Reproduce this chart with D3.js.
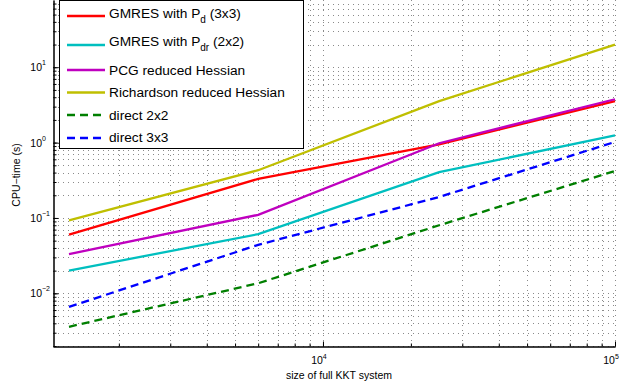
<!DOCTYPE html>
<html>
<head>
<meta charset="utf-8">
<script src="https://cdn.jsdelivr.net/npm/d3@7"></script>
<style>
  body { margin: 0; background: #fff; }
  svg { font-family: "Liberation Sans", Arial, Helvetica, sans-serif; }
</style>
</head>
<body>
<svg id="chart" width="620" height="390"></svg>
<script>
// problem sizes (x) and CPU times (y)
let sizes = [1350, 6000, 25000, 100000];
let gmresPd = [0.060, 0.33, 0.95, 3.55];
let gmresPdr = [0.020, 0.061, 0.405, 1.25];
let pcgHess = [0.033, 0.11, 0.98, 3.76];
let richHess = [0.093, 0.43, 3.55, 19.9];
let direct2 = [0.0036, 0.0136, 0.080, 0.42];
let direct3 = [0.0066, 0.044, 0.19, 1.02];

let xMajor = [1e4, 1e5];
let yMajor = [1e-2, 1e-1, 1e0, 1e1];

let series = [
  {name: 'GMRES with P', sub: 'd', tail: ' (3x3)', values: gmresPd, color: '#ff0000', dash: null},
  {name: 'GMRES with P', sub: 'dr', tail: ' (2x2)', values: gmresPdr, color: '#00bfbf', dash: null},
  {name: 'PCG reduced Hessian', values: pcgHess, color: '#bf00bf', dash: null},
  {name: 'Richardson reduced Hessian', values: richHess, color: '#bfbf00', dash: null},
  {name: 'direct 2x2', values: direct2, color: '#007f00', dash: '8,5'},
  {name: 'direct 3x3', values: direct3, color: '#0000ff', dash: '8,5'}
];

let svg = d3.select('#chart');
let pLeft = 53, pRight = 615, pTop = 0, pBottom = 346;

let x = d3.scaleLog().domain([1190, 1e5]).range([pLeft, pRight]);
let y = d3.scaleLog().domain([0.002, 78]).range([pBottom, pTop]);

function minors(scale) {
  let d = scale.domain(), out = [];
  for (let e = Math.floor(Math.log10(d[0])); e <= Math.ceil(Math.log10(d[1])); e++) {
    for (let m = 1; m < 10; m++) {
      let v = m * Math.pow(10, e);
      if (v >= d[0] && v <= d[1]) out.push(v);
    }
  }
  return out;
}
let xAll = minors(x), yAll = minors(y);

// dotted grid
let grid = svg.append('g').attr('stroke', '#8a8a8a').attr('stroke-width', 1).attr('stroke-dasharray', '1,4');
grid.selectAll('.gx').data(xAll).enter().append('line')
  .attr('x1', d => Math.round(x(d)) + 0.5).attr('x2', d => Math.round(x(d)) + 0.5)
  .attr('y1', pTop).attr('y2', pBottom);
grid.selectAll('.gy').data(yAll).enter().append('line')
  .attr('y1', d => Math.round(y(d)) + 0.5).attr('y2', d => Math.round(y(d)) + 0.5)
  .attr('x1', pLeft).attr('x2', pRight);

// axes with inward ticks
svg.append('g').attr('transform', 'translate(0,' + (pBottom + 0.5) + ')')
  .call(d3.axisBottom(x).tickValues(xAll).tickSize(-3).tickSizeOuter(0).tickFormat(''));
svg.append('g').attr('transform', 'translate(0,' + (pBottom + 0.5) + ')')
  .call(d3.axisBottom(x).tickValues(xMajor).tickSize(-5).tickSizeOuter(0).tickFormat(''));
svg.append('g').attr('transform', 'translate(' + (pLeft + 0.5) + ',0)')
  .call(d3.axisLeft(y).tickValues(yAll).tickSize(-3).tickSizeOuter(0).tickFormat(''));
svg.append('g').attr('transform', 'translate(' + (pLeft + 0.5) + ',0)')
  .call(d3.axisLeft(y).tickValues(yMajor).tickSize(-5).tickSizeOuter(0).tickFormat(''));
svg.selectAll('.domain').attr('stroke', '#000');
svg.selectAll('.tick line').attr('stroke', '#000');

// tick labels as 10^k
xMajor.forEach(function(v) {
  let t = svg.append('text').attr('x', x(v) - 4).attr('y', 364)
    .attr('text-anchor', 'middle').attr('font-size', 10.5);
  t.append('tspan').text('10');
  t.append('tspan').attr('dy', -5).attr('font-size', 7).text(Math.round(Math.log10(v)));
});
yMajor.forEach(function(v) {
  svg.append('text').attr('x', 42).attr('y', y(v) + 4)
    .attr('text-anchor', 'end').attr('font-size', 10.5).text('10');
  let e = Math.round(Math.log10(v));
  svg.append('text').attr('x', 42).attr('y', y(v) - 2)
    .attr('font-size', 7).text(e < 0 ? '\u2212' + (-e) : e);
});

// series
let line = d3.line().x((d, i) => x(sizes[i])).y(d => y(d));
svg.selectAll('.series').data(series).enter().append('path')
  .attr('d', d => line(d.values))
  .attr('fill', 'none')
  .attr('stroke', d => d.color)
  .attr('stroke-width', 2.3)
  .attr('stroke-dasharray', d => d.dash);

// axis titles
svg.append('text').attr('x', 339).attr('y', 379)
  .attr('text-anchor', 'middle').attr('font-size', 10.5).text('size of full KKT system');
svg.append('text').attr('transform', 'translate(20,175) rotate(-90)')
  .attr('text-anchor', 'middle').attr('font-size', 10.5).text('CPU\u2212time (s)');

// legend
let lg = svg.append('g');
lg.append('rect').attr('x', 59.5).attr('y', 0.5).attr('width', 244).attr('height', 148)
  .attr('fill', '#fff').attr('stroke', '#000').attr('stroke-width', 1);
let lineY = [16, 45, 70, 92.5, 115, 138];
let textY = [17.5, 46, 75, 96.5, 119.5, 142];
series.forEach(function(s, i) {
  lg.append('line').attr('x1', 67).attr('x2', 105).attr('y1', lineY[i]).attr('y2', lineY[i])
    .attr('stroke', s.color).attr('stroke-width', 2.3).attr('stroke-dasharray', s.dash);
  let t = lg.append('text').attr('x', 109).attr('y', textY[i]).attr('font-size', 13.7);
  t.append('tspan').text(s.name);
  if (s.sub) {
    t.append('tspan').attr('dy', 5).attr('font-size', 10).text(s.sub);
    t.append('tspan').attr('dy', -5).text(s.tail);
  }
});
</script>
</body>
</html>
